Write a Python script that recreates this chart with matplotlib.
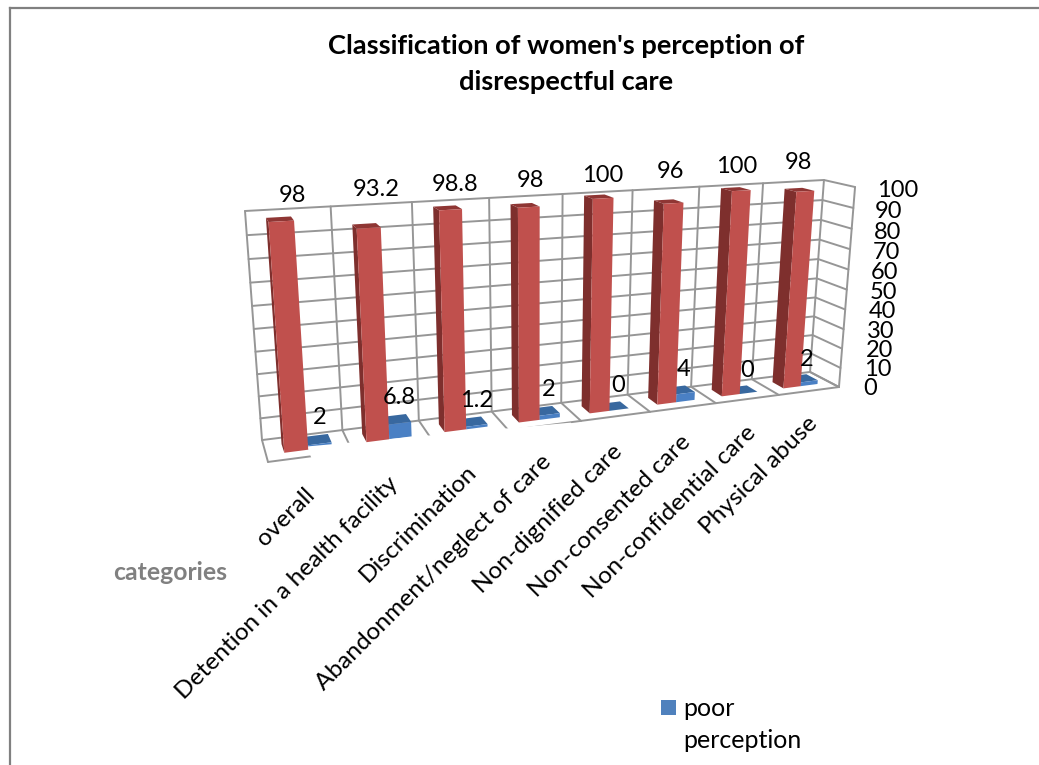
import numpy as np
import matplotlib
matplotlib.use("Agg")
import matplotlib.pyplot as plt
from matplotlib.lines import Line2D
from matplotlib.patches import Rectangle
from mpl_toolkits.mplot3d import proj3d
from mpl_toolkits.mplot3d.art3d import Poly3DCollection

categories = ["overall", "Detention in a health facility", "Discrimination",
              "Abandonment/neglect of care", "Non-dignified care",
              "Non-consented care", "Non-confidential care", "Physical abuse"]
good_perception = [98, 93.2, 98.8, 98, 100, 96, 100, 98]
poor_perception = [2, 6.8, 1.2, 2, 0, 4, 0, 2]
value_ticks = list(range(0, 101, 10))

W, H = 1039, 765
plt.rcParams["font.family"] = ["Lato", "DejaVu Sans"]
fig = plt.figure(figsize=(W / 100, H / 100), dpi=100, facecolor="white")
ax = fig.add_axes([0, 0, 1, 1], projection="3d", computed_zorder=False)
ax.set_axis_off()
ax.apply_aspect()


def fx(px):
    return px / W


def fy(py):
    return 1 - py / H


# Camera: a projective map fitted to where the chart box sits on the canvas.
box_points = np.array([[0, 0, 0], [8, 0, 0], [0, 1, 0], [8, 1, 0],
                       [0, 1, 100], [8, 1, 100], [8, 0, 100]], float)
box_pixels = np.array([[268, 462], [839, 387], [262, 440], [810, 372],
                       [245, 211], [824, 180], [855, 187]], float)
display = np.column_stack([box_pixels[:, 0], H - box_pixels[:, 1]])
uv = ax.transData.inverted().transform(display)
rows, rhs = [], []
for (x, y, z), (u, v) in zip(box_points, uv):
    rows.append([x, y, z, 1, 0, 0, 0, 0, -u * x, -u * y, -u * z]); rhs.append(u)
    rows.append([0, 0, 0, 0, x, y, z, 1, -v * x, -v * y, -v * z]); rhs.append(v)
p = np.linalg.lstsq(np.array(rows), np.array(rhs), rcond=None)[0]
camera = np.array([[p[0], p[1], p[2], p[3]],
                   [p[4], p[5], p[6], p[7]],
                   [0, 0.2, 0, -0.5],
                   [p[8], p[9], p[10], 1]])
ax.get_proj = lambda: camera


def label(x, y, z, text, **kw):
    # Text anchored at a point of the chart box, kept upright or rotated on screen.
    u, v, _ = proj3d.proj_transform(x, y, z, camera)
    ax.text2D(u, v, text, transform=ax.transData, color="black", zorder=6, **kw)


GRID = "#969696"
grid_style = dict(color=GRID, lw=1.4, zorder=1, solid_capstyle="round")

# Walls and floor
for v in value_ticks:
    ax.plot([0, 8, 8], [1, 1, 0], [v, v, v], **grid_style)
for i in range(9):
    ax.plot([i, i, i], [0, 1, 1], [0, 0, 100], **grid_style)
ax.plot([8, 8], [0, 0], [0, 100], **grid_style)
ax.plot([0, 8], [0, 0], [0, 0], **grid_style)

BAR_W = 1 / 3.5
BAR_D = 0.4
NONE = (0, 0, 0, 0)


def face_colors(top, front, side):
    # bar3d order: bottom, top, front, back, left, right
    return [NONE, top, front, NONE, side, NONE]


for i, (good, poor) in enumerate(zip(good_perception, poor_perception)):
    start = i + (1 - 2 * BAR_W) / 2
    ax.bar3d(start + BAR_W, 0.3, 0, BAR_W, BAR_D, poor, shade=False, zorder=2,
             color=face_colors("#38689F", "#4A80C4", "#38689F"), linewidth=0)
    ax.bar3d(start, 0.3, 0, BAR_W, BAR_D, good, shade=False, zorder=4,
             color=face_colors("#8F3634", "#C0504D", "#7E2F2D"), linewidth=0)

# White band behind the lower category labels
ax.add_collection3d(Poly3DCollection(
    [[(0.5, 0.45, 0), (3.85, -0.02, 0), (3.85, -1.2, 0), (0.5, -1.2, 0)]],
    facecolor="white", edgecolor="none", zorder=3))

FS = 17
for i, good in enumerate(good_perception):
    label(i + 0.56, 1, 105.5 + 0.5 * i, f"{good:g}", fontsize=FS, ha="center",
          va="center")
for i, poor in enumerate(poor_perception):
    label(i + 0.68, 0.5, poor + 10, f"{poor:g}", fontsize=FS, ha="center",
          va="center")
for v in value_ticks:
    label(8.36 + 0.0006 * (100 - v), 0, v - 2.5, str(v), fontsize=FS, ha="left",
          va="center")
for i, name in enumerate(categories):
    label(i + 0.48 + 0.02 * i, 0, -16, name, fontsize=17.6, rotation=45, ha="right",
          va="center", rotation_mode="anchor")

fig.text(fx(566), fy(46), "Classification of women's perception of",
         fontsize=19.6, fontweight="bold", ha="center", va="center")
fig.text(fx(566), fy(82), "disrespectful care", fontsize=19.6, fontweight="bold",
         ha="center", va="center")
fig.text(fx(113), fy(572), "categories", fontsize=17.8, fontweight="bold",
         color="#808080", ha="left", va="center")

# Legend entry
fig.add_artist(Rectangle((fx(661), fy(715)), 15 / W, 15 / H, facecolor="#4F81BD",
                         edgecolor="none", transform=fig.transFigure))
fig.text(fx(683), fy(708), "poor", fontsize=18, ha="left", va="center")
fig.text(fx(683), fy(740), "perception", fontsize=18, ha="left", va="center")

# Chart frame, cut off by the canvas on the right and at the bottom
frame = dict(color="#808080", lw=1.6, transform=fig.transFigure)
fig.add_artist(Line2D([fx(10), fx(10)], [fy(8), 0], **frame))
fig.add_artist(Line2D([fx(10), 1], [fy(8), fy(8)], **frame))

fig.savefig("out.png", dpi=100)
